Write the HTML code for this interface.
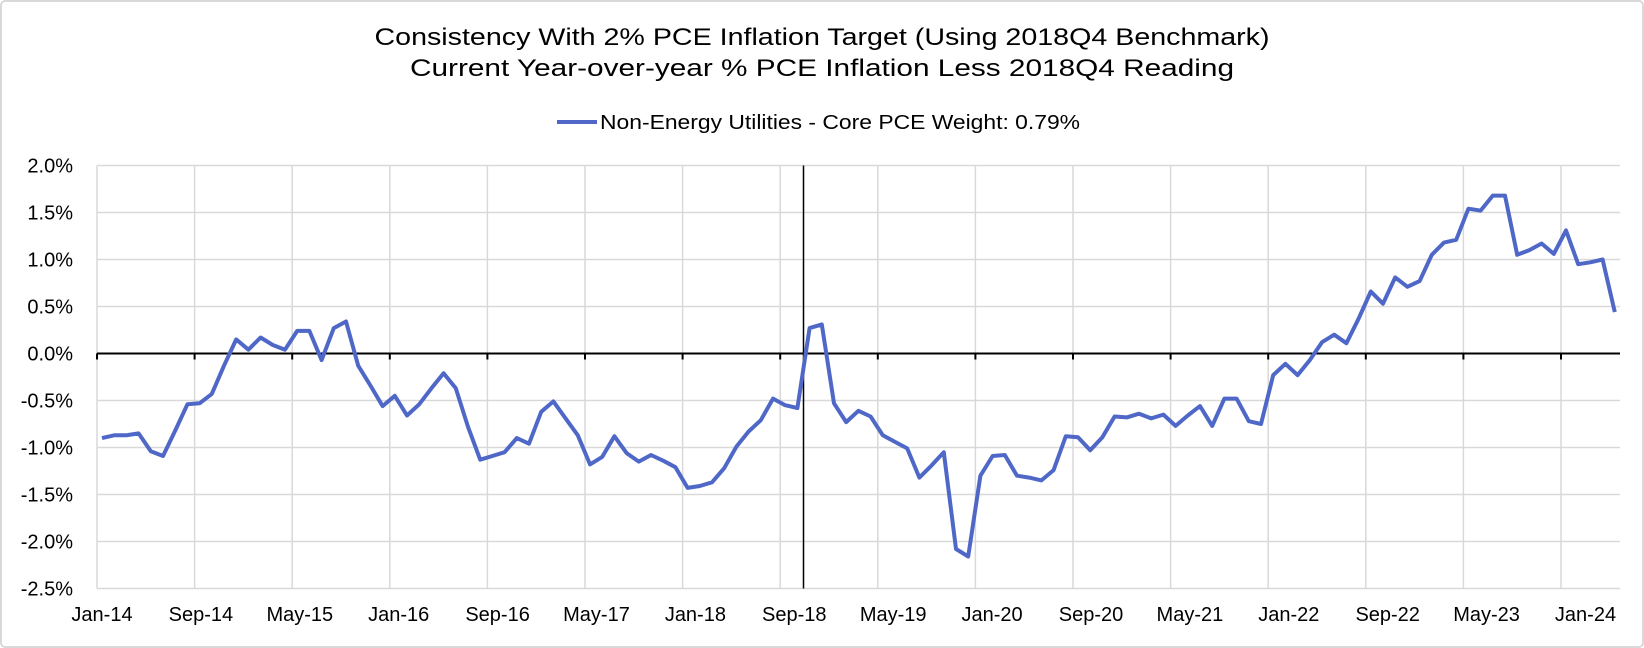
<!DOCTYPE html>
<html><head><meta charset="utf-8"><style>
html,body{margin:0;padding:0;background:#fff;}
svg{display:block;font-family:"Liberation Sans",sans-serif;}
</style></head><body>
<svg id="chart" width="1644" height="648" viewBox="0 0 1644 648" xmlns="http://www.w3.org/2000/svg">
<rect x="1" y="1" width="1642" height="646" rx="4" fill="#fff" stroke="#d9d9d9" stroke-width="2"/>
<text x="822" y="45" text-anchor="middle" font-size="24" fill="#000" textLength="895" lengthAdjust="spacingAndGlyphs">Consistency With 2% PCE Inflation Target (Using 2018Q4 Benchmark)</text>
<text x="822" y="76" text-anchor="middle" font-size="24" fill="#000" textLength="824" lengthAdjust="spacingAndGlyphs">Current Year-over-year % PCE Inflation Less 2018Q4 Reading</text>
<g>
<line x1="557" y1="122" x2="597" y2="122" stroke="#4f68c8" stroke-width="4"/>
<text x="600" y="129" font-size="20" fill="#000" textLength="480" lengthAdjust="spacingAndGlyphs">Non-Energy Utilities - Core PCE Weight: 0.79%</text>
</g>
<g id="grid"></g>
<g id="yticks"></g>
<g id="xticks"></g>
<g id="series"></g>
</svg>
<script>
const yTicks = [2.0,1.5,1.0,0.5,0.0,-0.5,-1.0,-1.5,-2.0,-2.5];
const xLabels = ["Jan-14","Sep-14","May-15","Jan-16","Sep-16","May-17","Jan-18","Sep-18","May-19","Jan-20","Sep-20","May-21","Jan-22","Sep-22","May-23","Jan-24"];
const benchmarkIndex = 57.5;
const values = [
-0.90,-0.87,-0.87,-0.85,-1.04,-1.09,-0.82,-0.54,-0.53,-0.43,
-0.13,0.15,0.04,0.17,0.09,0.04,0.24,0.24,-0.07,0.27,
0.34,-0.13,-0.34,-0.56,-0.45,-0.66,-0.54,-0.37,-0.21,-0.37,
-0.78,-1.13,-1.09,-1.05,-0.90,-0.96,-0.62,-0.51,-0.69,-0.87,
-1.18,-1.10,-0.88,-1.06,-1.15,-1.08,-1.14,-1.21,-1.43,-1.41,
-1.37,-1.22,-0.99,-0.83,-0.71,-0.48,-0.55,-0.58,0.27,0.31,
-0.53,-0.73,-0.61,-0.67,-0.87,-0.94,-1.01,-1.32,-1.19,-1.05,
-2.08,-2.16,-1.30,-1.09,-1.08,-1.30,-1.32,-1.35,-1.24,-0.88,
-0.89,-1.03,-0.89,-0.67,-0.68,-0.64,-0.69,-0.65,-0.77,-0.66,
-0.56,-0.77,-0.48,-0.48,-0.72,-0.75,-0.23,-0.11,-0.23,-0.07,
0.12,0.20,0.11,0.37,0.66,0.53,0.81,0.71,0.77,1.05,
1.18,1.21,1.54,1.52,1.68,1.68,1.05,1.10,1.17,1.06,
1.31,0.95,0.97,1.00,0.44];

const NS="http://www.w3.org/2000/svg";
const plotL=97, plotR=1620, yTop=2.0, yBot=-2.5, pxTop=165.5, pxBot=588.5;
function yScale(v){return pxTop+(yTop-v)/(yTop-yBot)*(pxBot-pxTop);}
function xScale(i){return 102+i*12.2;}
function mk(tag,attrs,parent){const e=document.createElementNS(NS,tag);for(const k in attrs)e.setAttribute(k,attrs[k]);parent.appendChild(e);return e;}

const grid=document.getElementById('grid');
yTicks.forEach(v=>{
  if(v===0)return;
  const l=mk('line',{x1:plotL,x2:plotR,y1:yScale(v),y2:yScale(v),stroke:'#d9d9d9','stroke-width':1.5},grid);
  
  
});
for(let k=0;k<=15;k++){
  const x=plotL+k*97.6;
  if(x>plotR+1)break;
  const l=mk('line',{x1:x,x2:x,y1:pxTop,y2:pxBot,stroke:'#d9d9d9','stroke-width':1.5},grid);
  
  
}
const yt=document.getElementById('yticks');
yTicks.forEach(v=>{
  const t=mk('text',{x:73,y:yScale(v)+7,'text-anchor':'end','font-size':20,fill:'#000'},yt);
  t.textContent=v.toFixed(1)+'%';
  
  
});
const xt=document.getElementById('xticks');
xLabels.forEach((s,k)=>{
  const t=mk('text',{x:102+k*98.9,y:621,'text-anchor':'middle','font-size':20,fill:'#000'},xt);
  t.textContent=s;
  
  
});
const ser=document.getElementById('series');
const z=mk('line',{x1:plotL,x2:plotR,y1:yScale(0),y2:yScale(0),stroke:'#000','stroke-width':2},ser);


for(let k=0;k<=15;k++){
  const x=plotL+k*97.6; if(x>plotR+1)break;
  const tk=mk('line',{x1:x,x2:x,y1:yScale(0),y2:yScale(0)+6,stroke:'#000','stroke-width':2},ser);
  
  
}
const bx=xScale(benchmarkIndex);
const bl=mk('line',{x1:bx,x2:bx,y1:pxTop,y2:pxBot,stroke:'#000','stroke-width':1.5},ser);


const pts=values.map((v,i)=>xScale(i).toFixed(1)+','+yScale(v).toFixed(1)).join(' ');
const pl=mk('polyline',{points:pts,fill:'none',stroke:'#4f68c8','stroke-width':4,'stroke-linejoin':'round'},ser);


</script>
</body></html>
